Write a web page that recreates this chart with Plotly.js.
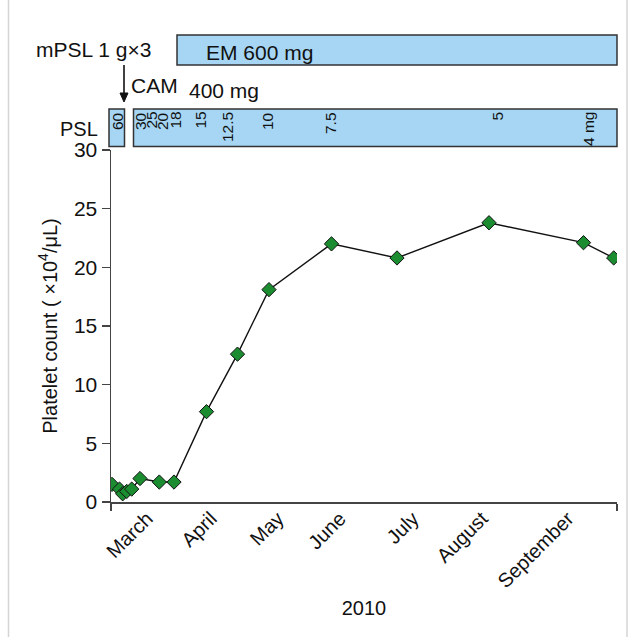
<!DOCTYPE html>
<html>
<head>
<meta charset="utf-8">
<script src="https://cdn.plot.ly/plotly-3.0.1.min.js"></script>
<style>
html,body{margin:0;padding:0;background:#fff;}
#chart{width:635px;height:637px;}
</style>
</head>
<body>
<div id="chart"></div>
<script>
// ---- data ----
const dayPos = [1, 8.5, 11.7, 15.7, 20.7, 29, 48.3, 63, 95.5, 126.5, 158, 220.5, 286, 378, 472.5, 502.7];
const platelet = [1.5, 1.1, 0.7, 0.9, 1.1, 2.0, 1.7, 1.7, 7.7, 12.6, 18.1, 22.0, 20.8, 23.8, 22.1, 20.8];
const monthPos = [36, 100, 167, 229, 302, 371, 457];
const monthLabels = ["March", "April", "May", "June", "July", "August", "September"];
const pslDoseLabels = ["60", "30", "25", "20", "18", "15", "12.5", "10", "7.5", "5", "4 mg"];
const pslDosePos = [6, 29, 40, 51, 64, 89, 116, 156, 219, 386, 477];
const yTitle = "Platelet count ( ×10<sup>4</sup>/μL)";
const xTitle = "2010";

// ---- layout helpers (pixel -> paper) ----
const L = 111, R = 617, T = 150, B = 502;
const px = x => (x - L) / (R - L);
const py = y => (B - y) / (B - T);

const FONT = "Liberation Sans, Arial, sans-serif";
const boxFill = "#a6d6f4";
const boxLine = "#333333";

const trace = {
  x: dayPos, y: platelet, type: "scatter", mode: "lines+markers",
  line: {color: "#111", width: 1.4},
  marker: {symbol: "diamond", size: 11, color: "#1b8c30", line: {color: "#111", width: 1}},
  showlegend: false, hoverinfo: "x+y"
};
const ghost = {x: [0], y: [0], xaxis: "x2", yaxis: "y", mode: "markers", marker: {opacity: 0}, showlegend: false, hoverinfo: "skip"};

const ax = px(124);
const shapes = [
  {type: "rect", xref: "paper", yref: "paper", x0: px(177), x1: px(617), y0: py(65), y1: py(35), fillcolor: boxFill, line: {color: boxLine, width: 1.5}},
  {type: "rect", xref: "paper", yref: "paper", x0: px(109), x1: px(124.5), y0: py(146.5), y1: py(109), fillcolor: boxFill, line: {color: boxLine, width: 1.5}},
  {type: "rect", xref: "paper", yref: "paper", x0: px(133.5), x1: px(617), y0: py(146.5), y1: py(109), fillcolor: boxFill, line: {color: boxLine, width: 1.5}},
  {type: "line", xref: "paper", yref: "paper", x0: ax, x1: ax, y0: py(65), y1: py(95), line: {color: "#111", width: 1.6}},
  {type: "path", xref: "paper", yref: "paper", path: `M ${px(120)} ${py(93)} L ${px(128)} ${py(93)} L ${ax} ${py(102)} Z`, fillcolor: "#111", line: {color: "#111", width: 1}},
  {type: "line", xref: "paper", yref: "paper", x0: px(8.5), x1: px(8.5), y0: py(0), y1: py(637), line: {color: "#d4d4d4", width: 1.5}},
  {type: "line", xref: "paper", yref: "paper", x0: px(627), x1: px(627), y0: py(0), y1: py(637), line: {color: "#d4d4d4", width: 1.5}}
];

const annotations = [
  {xref: "paper", yref: "paper", x: px(34), y: py(50), xanchor: "left", yanchor: "middle", text: "mPSL 1 g×3", showarrow: false, font: {family: FONT, size: 21, color: "#111"}},
  {xref: "paper", yref: "paper", x: px(259), y: py(52), xanchor: "center", yanchor: "middle", text: "EM 600 mg", showarrow: false, font: {family: FONT, size: 21, color: "#111"}},
  {xref: "paper", yref: "paper", x: px(129), y: py(86), xanchor: "left", yanchor: "middle", text: "CAM", showarrow: false, font: {family: FONT, size: 21, color: "#111"}},
  {xref: "paper", yref: "paper", x: px(187), y: py(90), xanchor: "left", yanchor: "middle", text: "400 mg", showarrow: false, font: {family: FONT, size: 21, color: "#111"}},
  {xref: "paper", yref: "paper", x: px(100), y: py(129), xanchor: "right", yanchor: "middle", text: "PSL", showarrow: false, font: {family: FONT, size: 20, color: "#111"}}
];
pslDoseLabels.forEach((t, i) => {
  annotations.push({xref: "paper", yref: "paper", x: px(L + pslDosePos[i]), y: py(110), xanchor: "center", yanchor: "top",
    text: t, textangle: -90, showarrow: false, font: {family: FONT, size: 15.5, color: "#111"}});
});

const layout = {
  width: 635, height: 637,
  margin: {l: L, r: 635 - R, t: T, b: 637 - B},
  paper_bgcolor: "#fff", plot_bgcolor: "#fff",
  font: {family: FONT, color: "#111"},
  xaxis: {range: [0, R - L], tickvals: [0, R - L], showticklabels: false, ticks: "outside", ticklen: 7, tickwidth: 1.5, tickcolor: "#444",
    showline: true, linecolor: "#444", linewidth: 1.5, showgrid: false, zeroline: false},
  xaxis2: {overlaying: "x", matches: "x", anchor: "y", side: "bottom", tickvals: monthPos, ticktext: monthLabels, tickangle: -45, ticks: "",
    showline: false, showgrid: false, zeroline: false, tickfont: {family: FONT, size: 20, color: "#111"},
    title: {text: xTitle, font: {family: FONT, size: 20, color: "#111"}, standoff: 9}},
  yaxis: {range: [0, 30], tickvals: [0, 5, 10, 15, 20, 25, 30], ticks: "outside", ticklen: 8, tickwidth: 1.5, tickcolor: "#444",
    showline: true, linecolor: "#444", linewidth: 1.5, showgrid: false, zeroline: false, tickfont: {family: FONT, size: 21, color: "#111"},
    title: {text: yTitle, font: {family: FONT, size: 20, color: "#111"}, standoff: 11}},
  shapes: shapes,
  annotations: annotations
};

Plotly.newPlot("chart", [trace, ghost], layout, {displayModeBar: false, staticPlot: true});
</script>
</body>
</html>
